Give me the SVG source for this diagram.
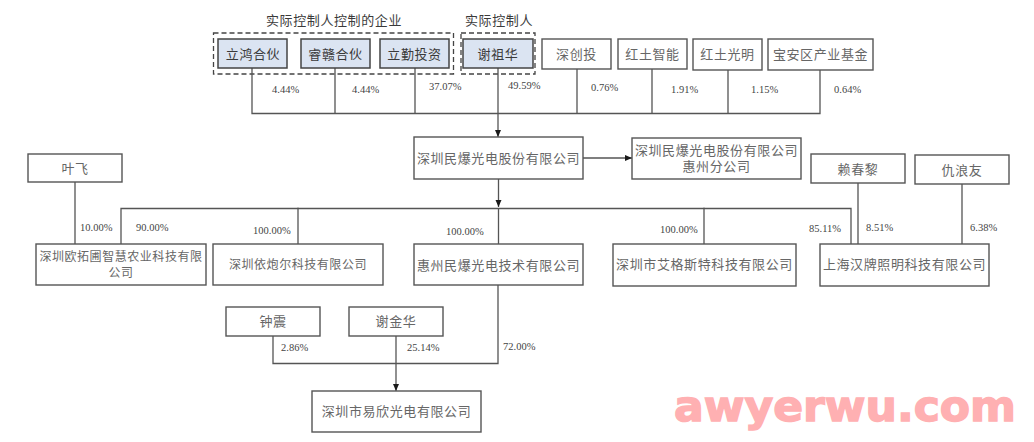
<svg xmlns="http://www.w3.org/2000/svg" width="1034" height="442" viewBox="0 0 1034 442">
<defs>
<marker id="arrow" markerUnits="userSpaceOnUse" markerWidth="8" markerHeight="7" refX="7" refY="3" orient="auto"><path d="M0 0L7 3L0 6Z" fill="#1a1a1a"/></marker>
</defs>
<style>
.box{fill:#fff;stroke:#555;stroke-width:1.4}
.blue{fill:#dbe4f2;stroke:#444;stroke-width:1.5}
.dash{fill:none;stroke:#444;stroke-width:1.3;stroke-dasharray:5 3}
.n{font-family:"Liberation Serif","Noto Sans CJK SC",serif;font-size:13px;letter-spacing:.6px;fill:#666;text-anchor:middle}
.t{font-size:12px;letter-spacing:.55px}
.d{fill:#3a3a3a}
.p{font-family:"Liberation Serif","Noto Sans CJK SC",serif;font-size:10.5px;fill:#444}
.c path{fill:none;stroke:#555;stroke-width:1.3}
.wm{font-family:"DejaVu Sans",sans-serif;font-weight:700;font-size:42px;fill:#ffb0b2;stroke:#ffb0b2;stroke-width:1.4}
</style>
<rect width="1034" height="442" fill="#fff"/>
<g id="groups">
<rect class="dash" x="213.5" y="33" width="240" height="41"/>
<rect class="dash" x="461" y="33" width="74" height="41"/>
<text class="n d" x="334" y="25">实际控制人控制的企业</text>
<text class="n d" x="499" y="25">实际控制人</text>
</g>
<g id="connectors" class="c">
<path d="M252 68V113.500H820V69M335 68V113.500M415 68V113.500M577 69V113.500M652 69V113.500M728 70V113.500"/>
<path d="M498 68V137" marker-end="url(#arrow)"/>
<path d="M583 158H632" marker-end="url(#arrow)"/>
<path d="M498.500 179V207" marker-end="url(#arrow)"/>
<path d="M121 244V208.500H851V244M298 207.500V244M498.500 208.500V244M704 207.500V244"/>
<path d="M75 182V244M858 183V244M962 184V244"/>
<path d="M273 336V363.500H498V285"/>
<path d="M396 336V391" marker-end="url(#arrow)"/>
</g>
<g id="n1"><rect class="blue" x="218" y="39" width="69" height="29"/><text class="n d" x="253" y="58.500">立鸿合伙</text></g>
<g id="n2"><rect class="blue" x="301" y="39" width="69" height="29"/><text class="n d" x="335.500" y="58.500">睿赣合伙</text></g>
<g id="n3"><rect class="blue" x="380" y="39" width="69" height="29"/><text class="n d" x="414.500" y="58.500">立勤投资</text></g>
<g id="n4"><rect class="blue" x="463" y="39" width="70" height="29"/><text class="n d" x="498" y="58.500">谢祖华</text></g>
<g id="n5"><rect class="box" x="542" y="39" width="69" height="30"/><text class="n" x="576.500" y="59">深创投</text></g>
<g id="n6"><rect class="box" x="618" y="39" width="69" height="30"/><text class="n" x="652.500" y="59">红土智能</text></g>
<g id="n7"><rect class="box" x="693" y="39" width="69" height="31"/><text class="n" x="727.500" y="59">红土光明</text></g>
<g id="n8"><rect class="box" x="768" y="39" width="105" height="31"/><text class="n" x="820.500" y="59">宝安区产业基金</text></g>
<g id="n9"><rect class="box" x="414" y="137" width="169" height="42"/><text class="n" x="498.500" y="163">深圳民爆光电股份有限公司</text></g>
<g id="n10"><rect class="box" x="632" y="138" width="169" height="41"/><text class="n" x="716.500" y="155">深圳民爆光电股份有限公司</text><text class="n" x="716.500" y="171">惠州分公司</text></g>
<g id="n11"><rect class="box" x="28" y="154" width="94" height="28"/><text class="n" x="75" y="172.500">叶飞</text></g>
<g id="n12"><rect class="box" x="811" y="154" width="94" height="29"/><text class="n" x="858" y="174">赖春黎</text></g>
<g id="n13"><rect class="box" x="915" y="155" width="94" height="29"/><text class="n" x="962" y="175">仇浪友</text></g>
<g id="n14"><rect class="box" x="36" y="244" width="170" height="41"/><text class="n t" x="121" y="261">深圳欧拓圃智慧农业科技有限</text><text class="n t" x="121" y="277">公司</text></g>
<g id="n15"><rect class="box" x="213" y="244" width="170" height="41"/><text class="n t" x="298" y="269">深圳依炮尔科技有限公司</text></g>
<g id="n16"><rect class="box" x="414" y="244" width="169" height="41"/><text class="n" x="498.500" y="270">惠州民爆光电技术有限公司</text></g>
<g id="n17"><rect class="box" x="613" y="244" width="183" height="42"/><text class="n" x="704.500" y="269">深圳市艾格斯特科技有限公司</text></g>
<g id="n18"><rect class="box" x="820" y="244" width="169" height="42"/><text class="n" x="904.500" y="269">上海汉牌照明科技有限公司</text></g>
<g id="n19"><rect class="box" x="226" y="307" width="94" height="29"/><text class="n" x="273" y="325.500">钟震</text></g>
<g id="n20"><rect class="box" x="349" y="307" width="94" height="29"/><text class="n" x="396" y="325.500">谢金华</text></g>
<g id="n21"><rect class="box" x="312" y="391" width="169" height="41"/><text class="n" x="396.500" y="416">深圳市易欣光电有限公司</text></g>
<g id="labels">
<text class="p" x="272" y="93">4.44%</text>
<text class="p" x="352" y="93">4.44%</text>
<text class="p" x="429" y="90">37.07%</text>
<text class="p" x="508" y="89">49.59%</text>
<text class="p" x="591" y="91">0.76%</text>
<text class="p" x="671" y="93">1.91%</text>
<text class="p" x="751" y="93">1.15%</text>
<text class="p" x="834" y="93">0.64%</text>
<text class="p" x="80" y="231">10.00%</text>
<text class="p" x="136" y="231">90.00%</text>
<text class="p" x="253" y="233.500">100.00%</text>
<text class="p" x="446" y="235">100.00%</text>
<text class="p" x="660" y="233">100.00%</text>
<text class="p" x="809" y="232">85.11%</text>
<text class="p" x="866" y="231">8.51%</text>
<text class="p" x="970" y="231">6.38%</text>
<text class="p" x="281" y="351">2.86%</text>
<text class="p" x="407" y="351">25.14%</text>
<text class="p" x="503" y="350">72.00%</text>
</g>
<text class="wm" x="674" y="421" textLength="342" lengthAdjust="spacingAndGlyphs">awyerwu.com</text>
</svg>
